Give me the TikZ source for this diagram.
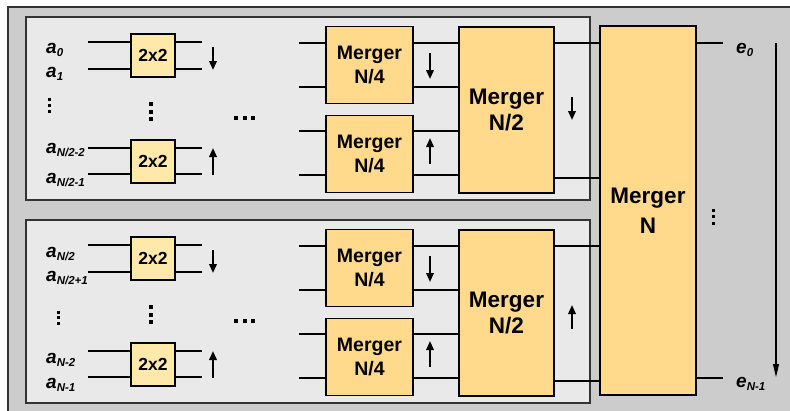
\documentclass[tikz,border=0pt]{standalone}
\usepackage{fontspec}
\setmainfont{Liberation Sans}
\usetikzlibrary{arrows.meta}
\definecolor{bgout}{HTML}{CCCCCC}
\definecolor{bgin}{HTML}{E9E9E9}
\definecolor{mfill}{HTML}{FFD98C}
\definecolor{sfill}{HTML}{FFE9AA}
\definecolor{edge}{HTML}{333333}
\newcommand\lbl[2]{{\bfseries\itshape\fontsize{19}{19}\selectfont #1}\raisebox{-3.5pt}{\fontsize{11.5}{11.5}\selectfont\bfseries\itshape #2}}
\tikzset{
  panelbox/.style={fill=bgin,draw=edge,line width=1.2pt},
  swbox/.style={draw=black,fill=sfill,line width=1.8pt,minimum width=44pt,minimum height=43pt,inner sep=0pt,font=\bfseries\fontsize{17.5}{17.5}\selectfont},
  mbox/.style={draw=black,fill=mfill,line width=1.8pt,inner sep=0pt,align=center},
  wire/.style={line width=1.8pt},
  sarrow/.style={line width=2pt,-{Triangle[width=7.5pt,length=9pt]}},
  larrow/.style={line width=1.1pt,-{Triangle[width=6pt,length=13pt]}},
  lab/.style={anchor=base west,inner sep=0pt},
  dotsq/.style={fill=black}
}
\begin{document}
\begin{tikzpicture}[x=1pt,y=-1pt]
\useasboundingbox (0,0) rectangle (790,410);
\fill[bgout] (8,7) rectangle (800,420);
\draw[edge,line width=1.2pt] (8,420) -- (8,7) -- (800,7);

% ---------- two panels ----------
\foreach \o/\p/\la/\lb/\lc/\ld/\ya/\yb/\yc/\yd/\dx/\dya/\dyb/\dyc/\nat/\nab in
  {0/t/0/1/N\slash 2-2/N\slash 2-1/53/77/153/183/49/99/105/111/97/120,
   203/b/N\slash 2/N\slash 2+1/N-2/N-1/54/78/160/185/58/109/114/120/126/102}{
\begin{scope}[shift={(0,\o)}]
  \draw[panelbox] (26,17) rectangle (590,200);
  % labels
  \node[lab] (la\p) at (46,\ya) {\lbl{a}{\la}};
  \node[lab] (lb\p) at (46,\yb) {\lbl{a}{\lb}};
  \node[lab] (lc\p) at (46,\yc) {\lbl{a}{\lc}};
  \node[lab] (ld\p) at (46,\yd) {\lbl{a}{\ld}};
  % 2x2 boxes
  \node[swbox] (sa\p) at (153,55.5) {2x2};
  \node[swbox] (sb\p) at (153,161.5) {2x2};
  \foreach \s/\yy in {sa/42,sa/69,sb/148,sb/174}{
    \coordinate (wl) at (88,\yy);
    \coordinate (wr) at (202,\yy);
    \draw[wire] (wl) -- (wl -| \s\p.west);
    \draw[wire] (\s\p.east |- wr) -- (wr);
  }
  \draw[sarrow] (213,47) -- (213,70);
  \draw[sarrow] (213,175) -- (213,148);
  % dots
  \foreach \yy in {\dya,\dyb,\dyc} \fill[dotsq] (\dx-1.5,\yy-1.5) rectangle ++(3,3);
  \foreach \yy in {104,111.5,119} \fill[dotsq] (151-2,\yy-2) rectangle ++(4,4);
  \foreach \xx in {236,244.5,253} \fill[dotsq] (\xx-2,118-2) rectangle ++(4,4);
  % mergers N/4 and N/2
  \node[mbox,minimum width=87pt,minimum height=77pt,font=\bfseries\fontsize{19.5}{24}\selectfont] (ma\p) at (369.5,65) {Merger\\N/4};
  \node[mbox,minimum width=87pt,minimum height=77pt,font=\bfseries\fontsize{19.5}{24}\selectfont] (mb\p) at (369.5,154) {Merger\\N/4};
  \node[mbox,minimum width=95pt,minimum height=166pt,font=\bfseries\fontsize{22.5}{26}\selectfont] (mc\p) at (506.5,110) {Merger\\N/2};
  \foreach \s/\yy in {ma/43,ma/87,mb/131,mb/175}{
    \coordinate (wl) at (299,\yy);
    \draw[wire] (wl) -- (wl -| \s\p.west);
    \draw[wire] (\s\p.east |- wl) -- (mc\p.west |- wl);
  }
  \draw[sarrow] (430,53) -- (430,79);
  \draw[sarrow] (430,164) -- (430,138);
  \draw[sarrow] (572,\nat) -- (572,\nab);
\end{scope}
}
% ---------- Merger N ----------
\node[mbox,minimum width=96pt,minimum height=369pt,font=\bfseries\fontsize{22.5}{30}\selectfont] (mn) at (648,210.5) {Merger\\N};
\foreach \yy in {43,178}{
  \coordinate (c) at (560,\yy);
  \draw[wire] (mct.east |- c) -- (mn.west |- c);
}
\foreach \yy in {246,381}{
  \coordinate (c) at (560,\yy);
  \draw[wire] (mcb.east |- c) -- (mn.west |- c);
}
\coordinate (eo) at (723,43);
\coordinate (en) at (723,378);
\draw[wire] (mn.east |- eo) -- (eo);
\draw[wire] (mn.east |- en) -- (en);
\node[lab] (e0) at (736,53) {\lbl{e}{0}};
\node[lab] (e1) at (736,387) {\lbl{e}{N-1}};
\coordinate (aa) at (776,43);
\coordinate (ab) at (776,377);
\draw[larrow] (aa) -- (ab);
\foreach \yy in {210,216.5,223} \fill[dotsq] (713-1.5,\yy-1.5) rectangle ++(3,3);
\end{tikzpicture}
\end{document}
